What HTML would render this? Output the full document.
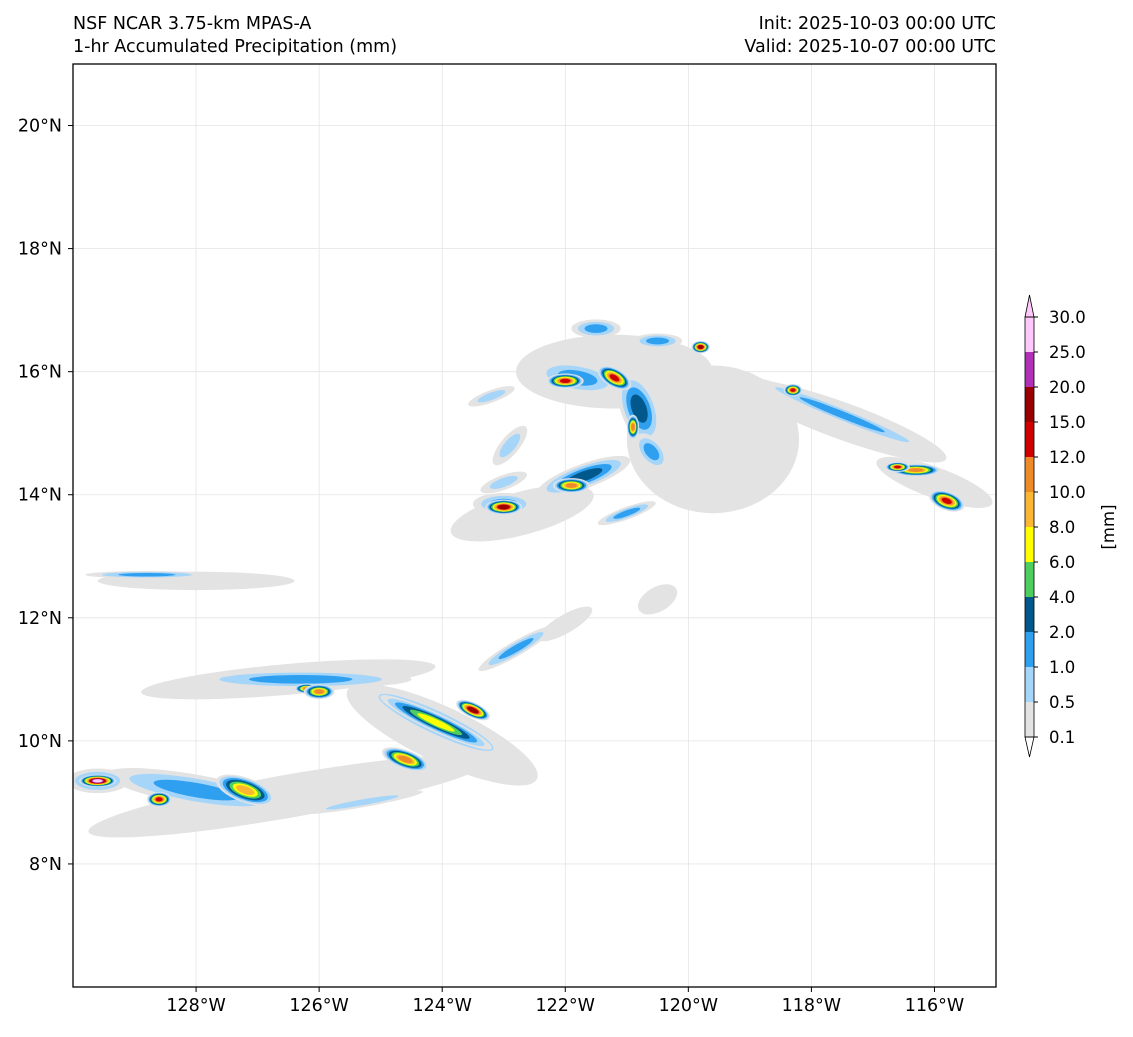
<!DOCTYPE html>
<html><head><meta charset="utf-8">
<style>
body{margin:0;background:#fff;}
svg text{font-family:"DejaVu Sans","Liberation Sans",sans-serif;fill:#000;}
</style></head>
<body>
<svg id="chart" width="1133" height="1032" xmlns="http://www.w3.org/2000/svg">
<text x="73" y="29" font-size="17.5">NSF NCAR 3.75-km MPAS-A</text>
<text x="73" y="52" font-size="17.5">1-hr Accumulated Precipitation (mm)</text>
<text x="996" y="29" font-size="17.5" text-anchor="end">Init: 2025-10-03 00:00 UTC</text>
<text x="996" y="52" font-size="17.5" text-anchor="end">Valid: 2025-10-07 00:00 UTC</text>
<defs><clipPath id="clip"><rect x="73" y="64" width="923" height="923"/></clipPath></defs>
<g id="grid"></g>
<g id="field" clip-path="url(#clip)"></g>
<rect x="73" y="64" width="923" height="923" fill="none" stroke="#000" stroke-width="1.3"/>
<g id="axes"></g>
<g id="cbar"></g>
</svg>
<script>
const lonTicks=[-128,-126,-124,-122,-120,-118,-116];
const latTicks=[8,10,12,14,16,18,20];
const levels=["0.1","0.5","1.0","2.0","4.0","6.0","8.0","10.0","12.0","15.0","20.0","25.0","30.0"];
const colors=["#e3e3e3","#a6d5fa","#2f9ff0","#00588c","#4ccf5e","#ffff00","#fbb634","#ee8a28","#d10000","#9a0000","#b230b8","#ffc8fa"];
// precip cells: lon, lat, rx(deg), ry(deg), angle, level index
const cellLon=[-119.6,-122.7,-126.5,-124.0,-126.5,-128.0,-117.5,-116.0,-122.0,-120.5,-121.2,
-121.8,-120.8,-121.7,-123.0,-121.5,-120.5,-122.0,-121.2,-121.9,-123.0,-120.9,-122.9,-123.0,-120.6,
-117.5,-116.3,-115.8,-124.1,-124.1,-123.5,-124.6,-128.0,-127.2,-128.6,-129.6,-129.6,
-126.3,-126.2,-126.0,-125.3,-122.8,-128.8,-118.3,-119.8,-116.6,-123.2,-121.0];
const cellLat=[14.9,13.7,9.1,10.1,11.0,12.6,15.2,14.2,11.9,12.3,16.0,
15.9,15.4,14.3,13.85,16.7,16.5,15.85,15.9,14.15,13.8,15.1,14.8,14.2,14.7,
15.3,14.4,13.9,10.3,10.3,10.5,9.7,9.2,9.2,9.05,9.35,9.35,
11.0,10.85,10.8,9.0,11.5,12.7,15.7,16.4,14.45,15.6,13.7];
const cellRx=[1.4,1.2,3.3,1.7,2.4,1.6,1.8,1.0,0.5,0.35,1.6,
0.7,0.3,0.8,0.5,0.4,0.4,0.3,0.3,0.3,0.3,0.1,0.15,0.4,0.2,
1.6,0.4,0.3,1.4,1.0,0.3,0.4,1.5,0.5,0.2,0.5,0.3,
1.8,0.2,0.25,1.0,0.7,1.0,0.15,0.15,0.2,0.4,0.5];
const cellRy=[1.2,0.35,0.35,0.45,0.25,0.15,0.3,0.25,0.15,0.2,0.6,
0.25,0.6,0.2,0.18,0.15,0.12,0.12,0.15,0.12,0.12,0.2,0.4,0.12,0.35,
0.12,0.1,0.15,0.25,0.15,0.12,0.15,0.25,0.2,0.12,0.2,0.1,
0.15,0.08,0.12,0.08,0.12,0.06,0.1,0.1,0.08,0.1,0.1];
const cellAng=[0,15,10,-25,5,0,-20,-20,30,30,0,
-10,20,20,0,0,0,0,-30,0,0,0,-40,20,40,
-22,0,-20,-25,-25,-25,-20,-10,-20,0,0,0,
0,0,0,10,30,0,0,0,0,20,20];
const cellLev=[0,0,0,0,0,0,0,0,0,0,0,
2,3,3,2,2,2,8,8,7,9,7,1,1,2,
2,7,8,2,5,9,7,2,6,8,2,11,
2,7,7,1,2,2,8,9,8,1,2];
const NS="http://www.w3.org/2000/svg";
const x=lon=>73+(lon+130)/15*923;
const y=lat=>987-(lat-6)/15*923;
const ppd=923/15;
function mk(tag,attrs,parent){const e=document.createElementNS(NS,tag);for(const k in attrs)e.setAttribute(k,attrs[k]);parent.appendChild(e);return e;}
const grid=document.getElementById('grid'),axes=document.getElementById('axes'),field=document.getElementById('field'),cbar=document.getElementById('cbar');
lonTicks.forEach(l=>{
 const g=mk('line',{x1:x(l),x2:x(l),y1:64,y2:987,stroke:'#e4e4e4','stroke-width':0.8},grid);
 
 const t=mk('line',{x1:x(l),x2:x(l),y1:987,y2:992,stroke:'#000'},axes);
 
 const tx=mk('text',{x:x(l),y:1011,'font-size':17.5,'text-anchor':'middle'},axes);tx.textContent=(-l)+'°W';
 
});
latTicks.forEach(l=>{
 const g=mk('line',{x1:73,x2:996,y1:y(l),y2:y(l),stroke:'#e4e4e4','stroke-width':0.8},grid);
 
 const t=mk('line',{x1:68,x2:73,y1:y(l),y2:y(l),stroke:'#000'},axes);
 
 const tx=mk('text',{x:62,y:y(l)+6,'font-size':17.5,'text-anchor':'end'},axes);tx.textContent=l+'°N';
 
});
cellLon.forEach((lo,i)=>{
 const lev=cellLev[i];
 for(let k=0;k<=lev;k++){
  const s=1-k/(lev+1)*0.8;
  const e=mk('ellipse',{cx:x(lo),cy:y(cellLat[i]),rx:cellRx[i]*ppd*(k==0?1:s),ry:cellRy[i]*ppd*(k==0?1:s),fill:colors[k],transform:`rotate(${-cellAng[i]} ${x(lo)} ${y(cellLat[i])})`},field);
  
 }
});
// colorbar
const cbX=1025,cbW=9,cbTop=317,seg=35;
colors.forEach((c,i)=>{
 const r=mk('rect',{x:cbX,y:cbTop+(11-i)*seg,width:cbW,height:seg,fill:c},cbar);
 
});
const up=mk('polygon',{points:`${cbX},${cbTop} ${cbX+cbW},${cbTop} ${cbX+cbW/2},${cbTop-22}`,fill:'#ffc8fa',stroke:'#000','stroke-width':0.8},cbar);

const dn=mk('polygon',{points:`${cbX},${cbTop+12*seg} ${cbX+cbW},${cbTop+12*seg} ${cbX+cbW/2},${cbTop+12*seg+20}`,fill:'#fff',stroke:'#000','stroke-width':0.8},cbar);

const ob=mk('rect',{x:cbX,y:cbTop,width:cbW,height:12*seg,fill:'none',stroke:'#000','stroke-width':0.8},cbar);

levels.forEach((l,i)=>{
 const yy=cbTop+(12-i)*seg;
 mk('line',{x1:cbX+cbW,x2:cbX+cbW+4,y1:yy,y2:yy,stroke:'#000'},cbar);
 const t=mk('text',{x:1049,y:yy+6,'font-size':16.5},cbar);t.textContent=l;
 
});
const u=mk('text',{x:1114,y:527,'font-size':16.5,'text-anchor':'middle',transform:'rotate(-90 1114 527)'},cbar);u.textContent='[mm]';

</script>
</body></html>
